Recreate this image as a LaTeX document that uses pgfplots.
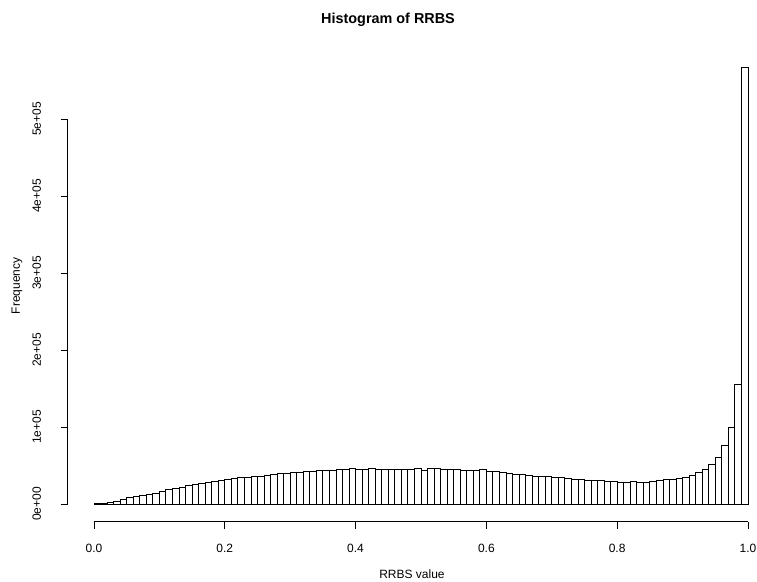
\documentclass[border=0pt]{standalone}
\usepackage{fontspec}
\setmainfont{Liberation Sans}
\usepackage{pgfplots}
\pgfplotsset{compat=1.18}

% bin counts of width 0.01, from 0.00 to 1.00 (last row closes the interval)
\pgfplotstableread{
x     n
0.00  500
0.01  900
0.02  2200
0.03  3900
0.04  6500
0.05  8200
0.06  10000
0.07  11700
0.08  13000
0.09  14300
0.10  16900
0.11  19000
0.12  20400
0.13  22100
0.14  24200
0.15  25600
0.16  27300
0.17  28600
0.18  29900
0.19  31200
0.20  32000
0.21  33800
0.22  34200
0.23  35100
0.24  35900
0.25  36400
0.26  37200
0.27  38100
0.28  39400
0.29  40300
0.30  40700
0.31  41600
0.32  42400
0.33  42900
0.34  43300
0.35  43700
0.36  44200
0.37  44600
0.38  45000
0.39  45900
0.40  45000
0.41  45500
0.42  45900
0.43  45500
0.44  45500
0.45  45500
0.46  45000
0.47  45000
0.48  45500
0.49  46300
0.50  43700
0.51  45900
0.52  45900
0.53  44600
0.54  44600
0.55  44600
0.56  43700
0.57  43700
0.58  43300
0.59  44600
0.60  42400
0.61  42400
0.62  40700
0.63  39800
0.64  38500
0.65  38100
0.66  36800
0.67  35900
0.68  35900
0.69  35500
0.70  34200
0.71  34200
0.72  32900
0.73  32000
0.74  31600
0.75  30300
0.76  30300
0.77  30300
0.78  29000
0.79  29000
0.80  27700
0.81  27700
0.82  29000
0.83  28600
0.84  27700
0.85  29000
0.86  30300
0.87  31600
0.88  31600
0.89  33800
0.90  35100
0.91  37700
0.92  40700
0.93  44600
0.94  51100
0.95  61100
0.96  75800
0.97  99200
0.98  155900
0.99  567000
1.00  0
}\rrbs

\begin{document}
\begin{tikzpicture}
\begin{axis}[
  at={(67.8pt,59.5pt)}, anchor=south west,
  scale only axis, width=706.3pt, height=471.6pt,
  xmin=-0.04, xmax=1.04, ymin=-22680, ymax=589680,
  axis x line*=bottom, axis y line*=left,
  axis line style={draw=none},
  clip=false,
  tick align=outside, major tick length=7.2pt,
  tick style={black, line width=0.8pt},
  xtick={0,0.2,0.4,0.6,0.8,1},
  xticklabels={0.0,0.2,0.4,0.6,0.8,1.0},
  ytick={0,100000,200000,300000,400000,500000},
  yticklabels={0e+00,1e+05,2e+05,3e+05,4e+05,5e+05},
  minor tick num=0,
  tick label style={font=\fontsize{12pt}{14pt}\selectfont},
  xticklabel shift=12pt,
  yticklabel shift=16pt,
  yticklabel style={rotate=90, anchor=south},
  scaled y ticks=false,
  xlabel={RRBS value}, ylabel={Frequency},
  label style={font=\fontsize{12pt}{14pt}\selectfont},
  xlabel style={at={(axis description cs:0.4873,-0.112)}, anchor=center},
  ylabel style={at={(axis description cs:-0.0719,0.4994)}, anchor=center, rotate=0},
  title={Histogram of RRBS},
  title style={font=\bfseries\fontsize{14.4pt}{17pt}\selectfont,
    at={(axis description cs:0.4534,1.0655)}, anchor=center, yshift=-7pt},
]
\addplot[ybar interval, fill=white, draw=black, line width=0.8pt] table[x=x, y=n] {\rrbs};
\draw[line width=0.8pt] (axis cs:0,-22680) -- (axis cs:1,-22680);
\draw[line width=0.8pt] (axis cs:-0.04,0) -- (axis cs:-0.04,500000);
\end{axis}
\pgfresetboundingbox
\path[use as bounding box] (0pt,0pt) rectangle (757pt,581pt);
\end{tikzpicture}
\end{document}
